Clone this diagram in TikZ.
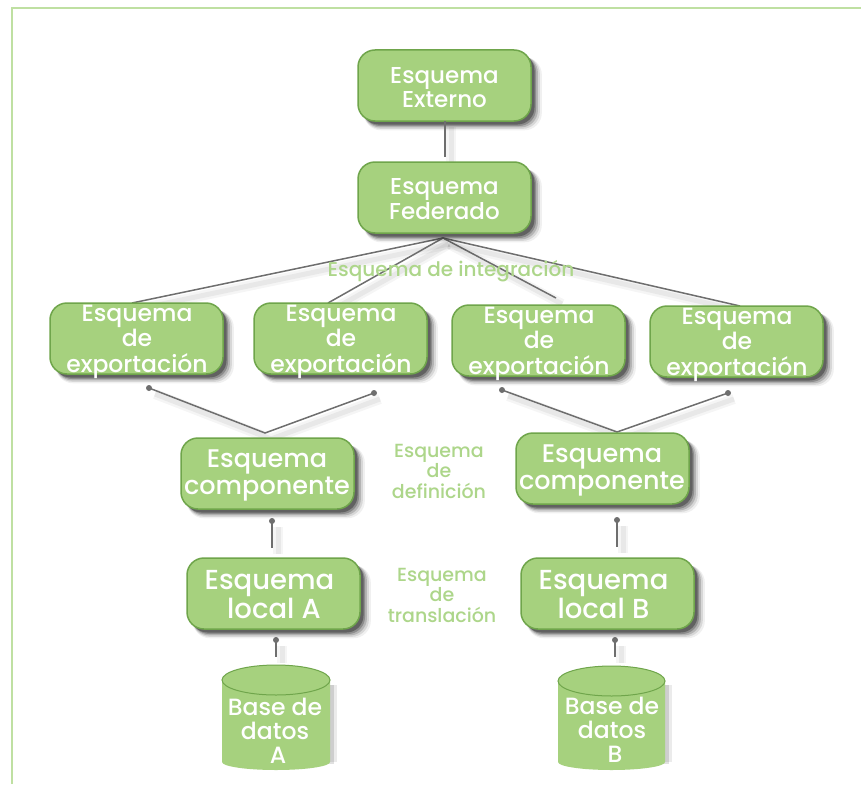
\documentclass[tikz,border=0pt]{standalone}
\usepackage{fontspec}
\setmainfont{Poppins Medium}
\usetikzlibrary{shadows,calc,shapes.geometric}
\definecolor{boxfill}{HTML}{A6D17E}
\definecolor{boxedge}{HTML}{6FA54B}
\definecolor{labelgreen}{HTML}{ADD68A}
\definecolor{framegreen}{HTML}{BFE0A2}
\definecolor{linegray}{HTML}{6E6E6E}
\newcommand{\boxlines}[3]{\raisebox{#2}[0pt][0pt]{\hspace*{#1}\begin{tabular}{@{}c@{}}#3\end{tabular}}}
\tikzset{
  softshadow/.style={
    general shadow={fill=black,opacity=.06,shadow xshift=8pt,shadow yshift=-8pt,shadow scale=1.03},
    general shadow={fill=black,opacity=.10,shadow xshift=7pt,shadow yshift=-7pt,shadow scale=1.02},
    general shadow={fill=black,opacity=.16,shadow xshift=6pt,shadow yshift=-6pt,shadow scale=1.01},
    general shadow={fill=black,opacity=.22,shadow xshift=5pt,shadow yshift=-5pt},
    general shadow={fill=black,opacity=.30,shadow xshift=3.5pt,shadow yshift=-3.5pt}},
  schemabox/.style={softshadow,draw=boxedge,line width=1.5pt,fill=boxfill,rounded corners=17pt,
    outer sep=0pt,minimum width=173pt,minimum height=71pt,inner sep=0pt,text=white,align=center,anchor=north west},
  topbox/.style={schemabox,font=\fontsize{23}{24}\selectfont},
  expbox/.style={schemabox,font=\fontsize{23.5}{24}\selectfont},
  compbox/.style={schemabox,font=\fontsize{25.5}{27}\selectfont},
  localbox/.style={schemabox,font=\fontsize{27.5}{27}\selectfont},
  note/.style={text=labelgreen,align=center,inner sep=0pt,font=\fontsize{19}{20.5}\selectfont},
  wnote/.style={note,font=\fontsize{20}{20.5}\selectfont},
  conn/.style={draw=linegray,line width=1.5pt,
    preaction={draw=black,opacity=.04,line width=10pt,transform canvas={shift={(6pt,-6pt)}}},
    preaction={draw=black,opacity=.05,line width=5pt,transform canvas={shift={(6pt,-6pt)}}}},
  enddot/.style={circle,fill=linegray,inner sep=0pt,minimum size=6pt},
  dbtext/.style={text=white,align=center,inner sep=0pt,font=\fontsize{23.5}{24}\selectfont},
  dbtop/.style={draw=boxedge,line width=1pt,fill=boxfill,ellipse,minimum height=30pt,inner sep=0pt,outer sep=0pt},
}
\begin{document}
\begin{tikzpicture}[x=1pt,y=-1pt]
\useasboundingbox (0,0) rectangle (861,784);
\fill[white] (0,0) rectangle (861,784);
\draw[framegreen,line width=1.6pt] (12,784) -- (12,8) -- (861,8);

\coordinate (fanapex) at (443,238);
\coordinate (e1top) at (132,303);
\coordinate (e2top) at (328,303);
\coordinate (e3top) at (556,298);
\coordinate (e4top) at (740,306);
\coordinate (extend) at (445,157);
\coordinate (apexA) at (265,433);
\coordinate (apexB) at (617,432);
\coordinate (dotA1) at (149,388);
\coordinate (dotA2) at (374,393);
\coordinate (dotB1) at (502,390);
\coordinate (dotB2) at (728,393);
\coordinate (vA1a) at (272,521);
\coordinate (vA1b) at (272,548);
\coordinate (vB1a) at (617,520);
\coordinate (vB1b) at (617,547);
\coordinate (vA2a) at (276,640);
\coordinate (vA2b) at (276,657);
\coordinate (vB2a) at (615,640);
\coordinate (vB2b) at (615,657);

\path[conn] (fanapex) -- (e1top);
\path[conn] (fanapex) -- (e2top);
\path[conn] (fanapex) -- (e3top);
\path[conn] (fanapex) -- (e4top);
\path[conn] (dotA1) -- (apexA) -- (dotA2);
\path[conn] (dotB1) -- (apexB) -- (dotB2);
\path[conn] (vA1a) -- (vA1b);
\path[conn] (vB1a) -- (vB1b);
\path[conn] (vA2a) -- (vA2b);
\path[conn] (vB2a) -- (vB2b);
\node[enddot] (dA1) at (dotA1) {};
\node[enddot] (dA2) at (dotA2) {};
\node[enddot] (dB1) at (dotB1) {};
\node[enddot] (dB2) at (dotB2) {};
\node[enddot] (dV1) at (vA1a) {};
\node[enddot] (dV2) at (vB1a) {};
\node[enddot] (dV3) at (vA2a) {};
\node[enddot] (dV4) at (vB2a) {};

\node[topbox] (ext) at (358,50) {\boxlines{0pt}{-11pt}{Esquema\\Externo}};
\path[conn] (ext.south -| extend) -- (extend);
\node[topbox] (fed) at (358,162) {\boxlines{0pt}{-11pt}{Esquema\\Federado}};

\node[expbox] (e1) at (50,303) {\boxlines{1pt}{-10pt}{Esquema\\de\\exportación}};
\node[expbox] (e2) at (254,303) {\boxlines{1pt}{-10pt}{Esquema\\de\\exportación}};
\node[expbox] (e3) at (452,305) {\boxlines{1pt}{-10pt}{Esquema\\de\\exportación}};
\node[expbox] (e4) at (650,306) {\boxlines{1pt}{-10pt}{Esquema\\de\\exportación}};

\node[compbox] (ca) at (181,438) {\boxlines{-1pt}{-8pt}{Esquema\\componente}};
\node[compbox] (cb) at (516,433) {\boxlines{-1pt}{-8pt}{Esquema\\componente}};
\node[localbox] (la) at (187,558) {\boxlines{-8pt}{-11pt}{Esquema\\\hspace*{9pt}local A}};
\node[localbox] (lb) at (521,558) {\boxlines{-8pt}{-11pt}{Esquema\\local B}};

% cylinders
\fill[black,opacity=.08] (290,685) rectangle (337,762);
\fill[black,opacity=.12] (290,685) rectangle (334,764);
\fill[black,opacity=.08] (625,685) rectangle (672,762);
\fill[black,opacity=.12] (625,685) rectangle (669,764);
\path[fill=boxfill] (222,680) -- (222,762) arc[start angle=180,end angle=0,x radius=54,y radius=8] -- (330,680) -- cycle;
\path[fill=boxfill] (558,681) -- (558,762) arc[start angle=180,end angle=0,x radius=53.5,y radius=8] -- (665,681) -- cycle;
\node[dbtop,minimum width=108pt] (dba) at (276,680) {};
\node[dbtop,minimum width=107pt] (dbb) at (611.5,681) {};
\node[dbtext,anchor=north] (ta) at (275,698) {Base de\\datos\\\ A};
\node[dbtext,anchor=north] (tb) at (612,697) {Base de\\datos\\\ B};

\node[wnote] (ni) at (451,271) {Esquema de integración};
\node[note] (nd) at (439,471) {Esquema\\de\\definición};
\node[note] (nt) at (442,595) {Esquema\\de\\translación};
\end{tikzpicture}
\end{document}
